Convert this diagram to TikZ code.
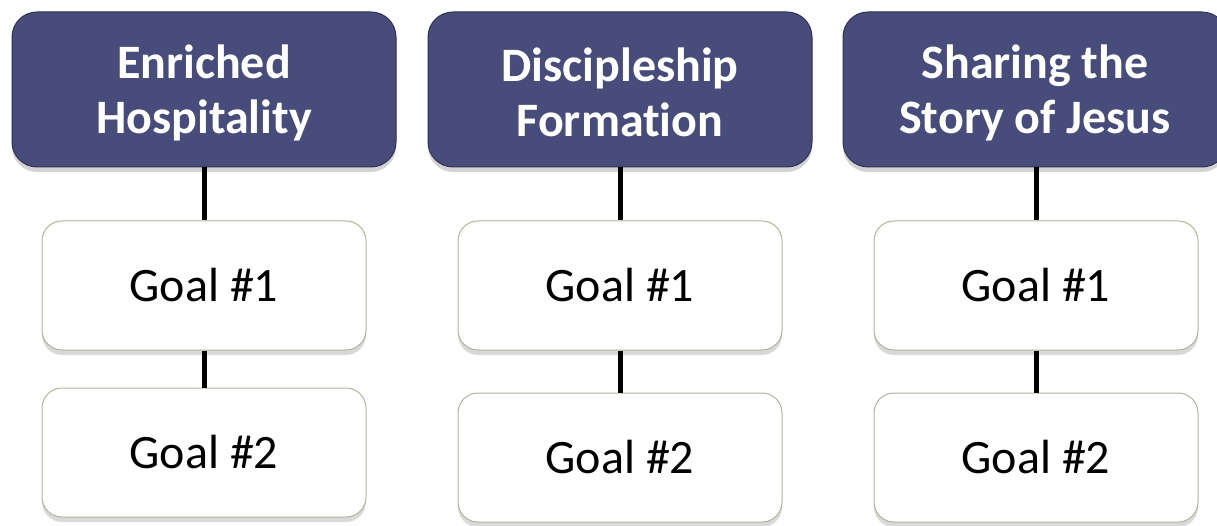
\documentclass[tikz,border=0pt]{standalone}
\usepackage{fontspec}
\setmainfont[Ligatures=NoCommon]{Carlito}
\usetikzlibrary{shadows}
\definecolor{headfill}{HTML}{474C7A}
\definecolor{headdraw}{HTML}{2F3358}
\definecolor{goaldraw}{HTML}{B4B49A}
\tikzset{
  headbox/.style={rectangle, rounded corners=25pt, fill=headfill, draw=headdraw, line width=1pt,
    minimum width=384pt, minimum height=155pt,
    drop shadow={opacity=0.35, shadow xshift=0pt, shadow yshift=-5pt}},
  headtext/.style={text=white, align=center, inner sep=0pt,
    font=\fontsize{48}{55}\selectfont\bfseries},
  goalbox/.style={rectangle, rounded corners=20pt, fill=white, draw=goaldraw, line width=1pt,
    minimum width=324pt, minimum height=129pt, text=black, align=center,
    font=\fontsize{48}{55}\selectfont,
    drop shadow={opacity=0.3, shadow xshift=0pt, shadow yshift=-5pt}},
  link/.style={draw=black, line width=5pt}
}
\newcommand{\goaltext}[1]{\raisebox{-2pt}{#1}}
\begin{document}
\begin{tikzpicture}[x=1pt,y=-1pt]
\useasboundingbox (0,0) rectangle (1217,526);
\clip (0,0) rectangle (1217,526);
% column 1
\node[headbox] (h1) at (204,89.5) {};
\node[headtext] (h1t) at ([yshift=-3pt]h1.center) {Enriched\\Hospitality};
\node[goalbox] (a1) at (204,285.5) {\goaltext{Goal \#1}};
\node[goalbox] (a2) at (204,452.5) {\goaltext{Goal \#2}};
% column 2
\node[headbox] (h2) at (620,89.5) {};
\node[headtext] (h2t) at ([yshift=-3pt]h2.center) {Discipleship\\Formation};
\node[goalbox] (b1) at (620,285.5) {\goaltext{Goal \#1}};
\node[goalbox] (b2) at (620,457.5) {\goaltext{Goal \#2}};
% column 3
\node[headbox] (h3) at (1035,89.5) {};
\node[headtext] (h3t) at ([yshift=-3pt]h3.center) {Sharing the\\Story of Jesus};
\node[goalbox] (c1) at (1036,285.5) {\goaltext{Goal \#1}};
\node[goalbox] (c2) at (1036,457.5) {\goaltext{Goal \#2}};
% links
\draw[link] (h1.south) -- (a1.north);
\draw[link] (a1.south) -- (a2.north);
\draw[link] (h2.south) -- (b1.north);
\draw[link] (b1.south) -- (b2.north);
\draw[link] (h3.south -| c1.north) -- (c1.north);
\draw[link] (c1.south) -- (c2.north);
\end{tikzpicture}
\end{document}
